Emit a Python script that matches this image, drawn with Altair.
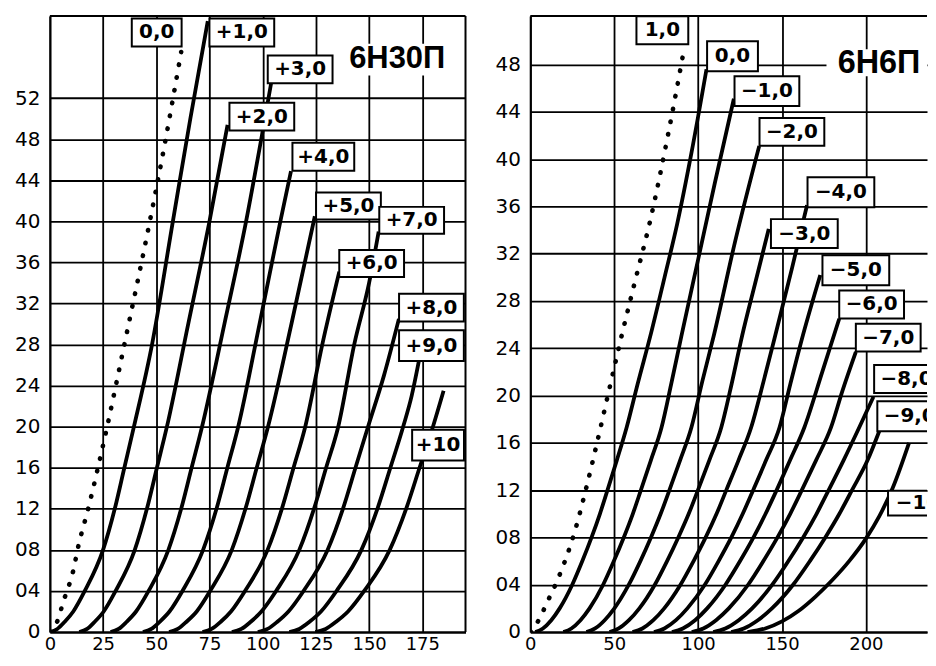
import json
import altair as alt
import pandas as pd

# ---------------- axis ticks / labels ----------------
L_X_TICKS = [0, 25, 50, 75, 100, 125, 150, 175]
L_Y_TICKS = [0, 4, 8, 12, 16, 20, 24, 28, 32, 36, 40, 44, 48, 52]
L_Y_LABELS = ["0", "04", "08", "12", "16", "20", "24", "28", "32", "36", "40", "44", "48", "52"]
R_X_TICKS = [0, 50, 100, 150, 200]
R_Y_TICKS = [0, 4, 8, 12, 16, 20, 24, 28, 32, 36, 40, 44, 48]
R_Y_LABELS = ["0", "04", "08", "12", "16", "20", "24", "28", "32", "36", "40", "44", "48"]

# ---------------- 6Н30П curves (Ua, Ia) ----------------
L_DOT = [(0, 0), (2, 0.5), (4, 1.3), (6.2, 2.9), (8.6, 4.3), (10.9, 5.9), (13.3, 8.3), (18, 12),
         (22.6, 16), (26.6, 19.7), (35, 28), (46, 39), (53.5, 47), (61.7, 56.5)]
L_P1 = [(0, 0), (3.5, 0.3), (7, 1), (11, 2), (16.4, 4), (25, 8), (30.5, 12), (35, 16), (39.5, 20),
        (48, 28), (57.8, 40), (66, 50), (74.2, 59.5)]
L_P2 = [(13.8, 0), (17.5, 0.3), (21.1, 1), (25.3, 2), (30.9, 4), (39.9, 8), (45.6, 12), (50.3, 16),
        (55, 20), (65, 30), (75, 40), (83.5, 49.4)]
L_P3 = [(28.5, 0), (32.3, 0.3), (36.1, 1), (40.5, 2), (46.4, 4), (55.7, 8), (61.7, 12), (66.6, 16),
        (71.5, 20), (82, 30), (92.2, 40), (100, 48.8), (104, 53.5)]
L_P4 = [(43.7, 0), (47.7, 0.3), (51.6, 1), (56.2, 2), (62.3, 4), (72, 8), (78.3, 12), (83.4, 16),
        (88.5, 20), (98.5, 30), (108.3, 40), (113.3, 44.9)]
L_P5 = [(56, 0), (60.1, 0.3), (64.2, 1), (69, 2), (75.3, 4), (85.5, 8), (91.9, 12), (97.2, 16),
        (102.5, 20), (113.5, 30), (124.5, 40.5)]
L_P6 = [(71.7, 0), (76, 0.3), (80.3, 1), (85.1, 2), (91.7, 4), (102.3, 8), (109, 12), (114.5, 16),
        (120, 20), (128, 28), (136, 35.1)]
L_P7 = [(85.5, 0), (90, 0.3), (94.4, 1), (99.4, 2), (106.3, 4), (117.2, 8), (124.1, 12), (129.8, 16),
        (135.5, 20), (143, 28), (150, 34), (154.5, 39)]
L_P8 = [(97.7, 0), (102.3, 0.3), (106.9, 1), (112.1, 2), (119.2, 4), (130.5, 8), (137.7, 12),
        (143.6, 16), (149.5, 20), (157, 25), (164, 30.5)]
L_P9 = [(112.5, 0), (117.2, 0.3), (122, 1), (127.4, 2), (134.7, 4), (146.4, 8), (153.9, 12),
        (160, 16), (166, 20), (170, 23), (173.4, 26.4)]
L_P10 = [(124.7, 0), (129.6, 0.3), (134.5, 1), (140.1, 2), (147.7, 4), (159.7, 8), (167.4, 12),
         (173.7, 16), (180, 20), (185, 23.5)]

LEFT_BOX_TEXT = ["0,0", "+1,0", "+3,0", "+2,0", "+4,0", "+5,0", "+7,0", "+6,0", "+8,0", "+9,0", "+10"]
LEFT_BOX_X = [50.2, 90.2, 117.6, 99.6, 128.5, 140.3, 170.0, 151.2, 179.3, 179.3, 182.4]
LEFT_BOX_Y = [58.4, 58.4, 54.8, 50.2, 46.3, 41.5, 40.1, 35.9, 31.6, 27.9, 18.2]
LEFT_BOX_W = [50, 65, 65, 65, 62, 65, 65, 65, 65, 65, 52]
LEFT_BOX_H = [28, 28, 28, 28, 28, 27, 27, 27, 28, 31, 31]

# ---------------- 6Н6П curves (Ua, Ia) ----------------
R_DOT = [(0, 0), (5, 1), (10, 2.5), (16.8, 4.6), (26.7, 8.6), (33.7, 12.4), (39.6, 15.9), (47, 20.5),
         (55, 25.4), (63, 30), (71.3, 34.7), (82, 42), (92, 49.6)]
R_G0 = [(3, 0), (7.5, 0.3), (12.5, 1), (17.5, 2), (25, 4), (31, 6), (36.5, 8), (41.5, 10), (46, 12),
        (51.5, 14.5), (57.4, 17.3), (64, 21), (72, 25.3), (80, 30), (87.5, 34.5), (96, 40.5), (105, 47.6)]
R_G1 = [(19.7, 0), (24.5, 0.3), (29.9, 1), (35.3, 2), (43.4, 4), (49.8, 6), (55.7, 8), (61.1, 10),
        (65.9, 12), (71.8, 14.5), (78.2, 17.3), (84, 21), (90, 25), (100, 31.5), (110, 38), (121.3, 45.1)]
R_G2 = [(33.4, 0), (38.6, 0.3), (44.3, 1), (50.1, 2), (58.7, 4), (65.6, 6), (71.9, 8), (77.7, 10),
        (82.9, 12), (89.2, 14.5), (96, 17.3), (102.5, 21.2), (109.4, 25.1), (122, 33), (136.4, 41.1)]
R_G3 = [(47.2, 0), (52.7, 0.3), (58.8, 1), (65, 2), (74.2, 4), (81.5, 6), (88.2, 8), (94.4, 10),
        (99.9, 12), (106.6, 14.5), (113.8, 17.3), (120, 21), (126.3, 25.1), (134, 29.5), (142.1, 34.1)]
R_G4 = [(60.9, 0), (66.8, 0.3), (73.3, 1), (79.8, 2), (89.5, 4), (97.3, 6), (104.5, 8), (111, 10),
        (116.8, 12), (124, 14.5), (131.6, 17.3), (139, 21.2), (146, 25.1), (156, 30.8), (164.9, 36.1)]
R_G5 = [(73.7, 0), (79.9, 0.3), (86.8, 1), (93.6, 2), (104, 4), (112.2, 6), (119.8, 8), (126.6, 10),
        (132.8, 12), (140.4, 14.5), (148.5, 17.3), (155, 21), (161.5, 24.6), (172.8, 30.2)]
R_G6 = [(84.4, 0), (90.9, 0.3), (98.2, 1), (105.4, 2), (116.3, 4), (125, 6), (133, 8), (140.2, 10),
        (146.8, 12), (154.7, 14.5), (163.3, 17.3), (174, 22), (184.1, 26.5)]
R_G7 = [(96.2, 0), (103.1, 0.3), (110.7, 1), (118.3, 2), (129.8, 4), (138.9, 6), (147.3, 8), (154.9, 10),
        (161.8, 12), (170.2, 14.5), (179.2, 17.3), (186, 20.4), (194, 23.7)]
R_G8 = [(109, 0), (116.2, 0.3), (124.2, 1), (132.2, 2), (144.2, 4), (153.8, 6), (162.6, 8), (170.6, 10),
        (177.8, 12), (186.6, 14.5), (196, 17.3), (204.5, 19.9)]
R_G9 = [(119.7, 0), (127.2, 0.3), (135.6, 1), (144, 2), (156.6, 4), (166.6, 6), (175.8, 8), (184.2, 10),
        (191.7, 12), (200.9, 14.5), (208, 17)]
R_G10 = [(129.4, 0), (140, 0.3), (150, 0.9), (160, 1.8), (170, 3.0), (180, 4.4), (190, 6.0),
         (200, 7.9), (208, 9.8), (216, 12.2), (225.7, 16)]

RIGHT_BOX_TEXT = ["1,0", "0,0", "−1,0", "−2,0", "−4,0", "−3,0", "−5,0", "−6,0", "−7,0", "−8,0", "−9,0", "−10"]
RIGHT_BOX_X = [78.7, 120.5, 141.0, 155.9, 185.1, 163.3, 194.0, 203.4, 213.3, 224.2, 226.1, 231.0]
RIGHT_BOX_Y = [50.9, 48.7, 45.75, 42.3, 37.2, 33.7, 30.6, 27.7, 24.9, 21.4, 18.25, 10.9]
RIGHT_BOX_W = [52, 51, 65, 65, 67, 67, 67, 65, 65, 65, 65, 60]
RIGHT_BOX_H = [28, 30, 30, 28, 30, 29, 30, 28, 28, 28, 30, 25]

# ---------------- helpers ----------------
FONT = "DejaVu Sans"


def curve_frame(named):
    rows = []
    for name, pts in named:
        for i, (x, y) in enumerate(pts):
            rows.append({"curve": name, "x": x, "y": y, "i": i})
    return pd.DataFrame(rows)


def box_frame(texts, xs, ys, ws, hs, kx, ky):
    rows = []
    for t, x, y, w, h in zip(texts, xs, ys, ws, hs):
        rows.append({"t": t, "x": x, "y": y,
                     "x1": x - w / 2 / kx, "x2": x + w / 2 / kx,
                     "y1": y - h / 2 / ky, "y2": y + h / 2 / ky})
    return pd.DataFrame(rows)


def panel(solid, dotted, boxes, title, title_pos, title_bg, title_size,
          xmax, ymax, w, h, xticks, yticks, ylabels, right_border):
    kx, ky = w / xmax, h / ymax
    xs = alt.Scale(domain=[0, xmax], nice=False, zero=False)
    ys = alt.Scale(domain=[0, ymax], nice=False, zero=False)
    expr = "%s[indexof(%s, datum.value)]" % (json.dumps(ylabels), json.dumps(yticks))
    ax = alt.Axis(values=xticks, grid=True, gridColor="black", gridWidth=1.8, gridOpacity=1,
                  domain=True, domainColor="black", domainWidth=2, ticks=False,
                  labelFont=FONT, labelFontSize=18, labelColor="black", labelPadding=4,
                  labelFlush=False, labelOverlap=False)
    ay = alt.Axis(values=yticks, grid=True, gridColor="black", gridWidth=1.8, gridOpacity=1,
                  domain=True, domainColor="black", domainWidth=2, ticks=False,
                  labelFont=FONT, labelFontSize=20, labelColor="black", labelPadding=10,
                  labelFlush=False, labelOverlap=False, labelExpr=expr)

    def X(f):
        return alt.X(f, type="quantitative", scale=xs, axis=ax, title=None)

    def Y(f):
        return alt.Y(f, type="quantitative", scale=ys, axis=ay, title=None)

    lines = alt.Chart(curve_frame(solid)).mark_line(
        color="black", strokeWidth=3.8, interpolate="monotone", clip=True
    ).encode(x=X("x"), y=Y("y"), detail="curve:N", order="i:Q")

    dots = alt.Chart(curve_frame(dotted)).mark_line(
        color="black", strokeWidth=4.6, strokeCap="round", strokeDash=[0.5, 12.5],
        interpolate="monotone", clip=True
    ).encode(x=X("x"), y=Y("y"), detail="curve:N", order="i:Q")

    top = alt.Chart(pd.DataFrame({"y": [ymax]})).mark_rule(
        color="black", strokeWidth=2).encode(y=Y("y"))
    layers = [lines, dots, top]
    if right_border:
        layers.append(alt.Chart(pd.DataFrame({"x": [xmax]})).mark_rule(
            color="black", strokeWidth=2).encode(x=X("x")))

    bgdf = pd.DataFrame([{"x1": title_bg[0], "x2": title_bg[1], "y1": title_bg[2], "y2": title_bg[3]}])
    layers.append(alt.Chart(bgdf).mark_rect(fill="white", clip=True).encode(
        x=X("x1"), x2="x2", y=Y("y1"), y2="y2"))
    tdf = pd.DataFrame([{"x": title_pos[0], "y": title_pos[1], "t": title}])
    layers.append(alt.Chart(tdf).mark_text(
        font="Liberation Sans", fontWeight="bold", fontSize=title_size, color="black",
        align="center", baseline="middle", clip=True
    ).encode(x=X("x"), y=Y("y"), text="t:N"))

    bdf = box_frame(*boxes, kx, ky)
    layers.append(alt.Chart(bdf).mark_rect(
        fill="white", stroke="black", strokeWidth=2, clip=True
    ).encode(x=X("x1"), x2="x2", y=Y("y1"), y2="y2"))
    layers.append(alt.Chart(bdf).mark_text(
        font=FONT, fontWeight="bold", fontSize=20, color="black",
        align="center", baseline="middle", clip=True
    ).encode(x=X("x"), y=Y("y"), text="t:N"))

    return alt.layer(*layers).properties(width=w, height=h)


left = panel(
    [("p1", L_P1), ("p2", L_P2), ("p3", L_P3), ("p4", L_P4), ("p5", L_P5), ("p6", L_P6),
     ("p7", L_P7), ("p8", L_P8), ("p9", L_P9), ("p10", L_P10)],
    [("dot", L_DOT)],
    (LEFT_BOX_TEXT, LEFT_BOX_X, LEFT_BOX_Y, LEFT_BOX_W, LEFT_BOX_H),
    "6Н30П", (163.2, 55.8), (138.3, 188.5, 54.2, 57.3), 31,
    195.3, 60, 417, 618, L_X_TICKS, L_Y_TICKS, L_Y_LABELS, True)

right = panel(
    [("g0", R_G0), ("g1", R_G1), ("g2", R_G2), ("g3", R_G3), ("g4", R_G4), ("g5", R_G5),
     ("g6", R_G6), ("g7", R_G7), ("g8", R_G8), ("g9", R_G9), ("g10", R_G10)],
    [("dot", R_DOT)],
    (RIGHT_BOX_TEXT, RIGHT_BOX_X, RIGHT_BOX_Y, RIGHT_BOX_W, RIGHT_BOX_H),
    "6Н6П", (207.8, 48.1), (176.5, 236.4, 47.0, 49.3), 32.5,
    236.4, 52.1, 398, 618, R_X_TICKS, R_Y_TICKS, R_Y_LABELS, False)

chart = alt.hconcat(left, right, spacing=28).configure_view(stroke=None).properties(
    padding={"left": 6, "top": 6, "right": 0, "bottom": 0}, background="white")

chart.save("out.html", embed_options={"renderer": "svg", "actions": False})
